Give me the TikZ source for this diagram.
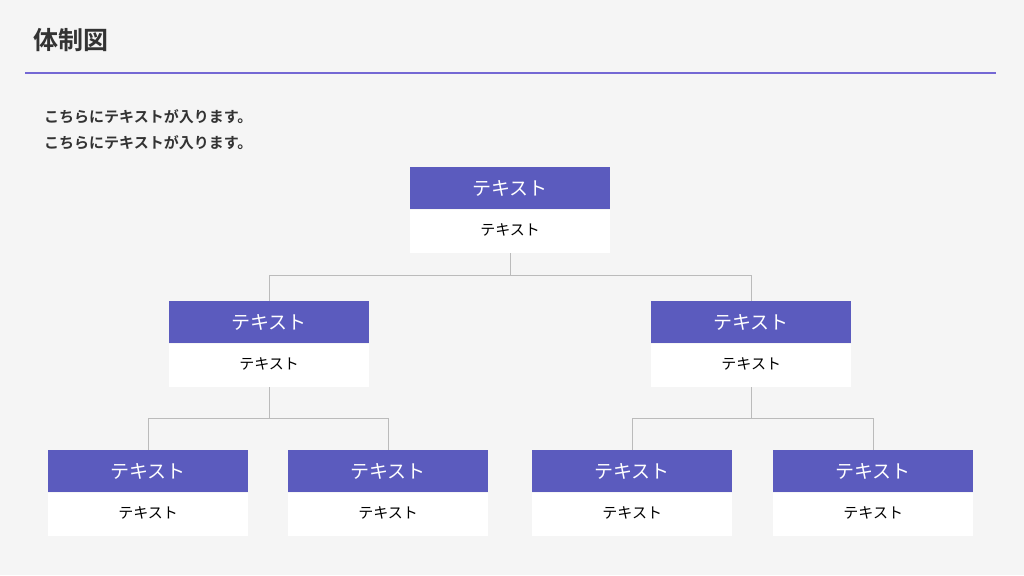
\documentclass[tikz,border=0pt]{standalone}
\usepackage{fontspec}
\newfontfamily\jp{Noto Sans CJK JP}
\newfontfamily\jpb{Noto Sans CJK JP Bold}
\definecolor{bg}{HTML}{F5F5F5}
\definecolor{hd}{HTML}{5B5BBE}
\definecolor{rule}{HTML}{7468D4}
\definecolor{ln}{HTML}{BBBBBB}
\definecolor{tx}{HTML}{333333}
\tikzset{
  hdbox/.style={fill=hd, text=white, minimum width=200pt, minimum height=42pt, inner sep=0pt, anchor=north west, font=\jp\fontsize{19}{21}\selectfont},
  bdbox/.style={fill=white, text=black, minimum width=200pt, minimum height=43pt, inner sep=0pt, anchor=north west, font=\jp\fontsize{15}{17}\selectfont},
  bdtext/.style={inner sep=0pt, text=black, font=\jp\fontsize{15}{17}\selectfont},
  conn/.style={draw=ln, line width=1.4pt}
}
\begin{document}
\begin{tikzpicture}[x=1pt,y=-1pt]
\fill[bg] (0,0) rectangle (1024,575);
\useasboundingbox (0,0) rectangle (1024,575);
\node[anchor=west, text=tx, font=\jpb\fontsize{25}{28}\selectfont, inner sep=0pt] (title) at (33,40) {体制図};
\coordinate (rl) at (25,73);
\coordinate (rr) at (996,73);
\draw[rule, line width=1.8pt] (rl) -- (rr);
\node[anchor=west, text=tx, font=\jpb\fontsize{15}{18}\selectfont, inner sep=0pt] (l1) at (44,117) {こちらにテキストが入ります。};
\node[anchor=west, text=tx, font=\jpb\fontsize{15}{18}\selectfont, inner sep=0pt] (l2) at (44,143) {こちらにテキストが入ります。};
% boxes
\newcommand\orgbox[3]{%
  \node[hdbox] (#1h) at (#2,#3) {テキスト};
  \node[bdbox] (#1b) at (#2,#3+43) {};
  \node[bdtext] (#1t) at ([yshift=2pt]#1b.center) {テキスト};
}
\orgbox{top}{410}{167}
\orgbox{ml}{169}{301}
\orgbox{mr}{651}{301}
\orgbox{b1}{48}{450}
\orgbox{b2}{288}{450}
\orgbox{b3}{532}{450}
\orgbox{b4}{773}{450}
% connectors
\draw[conn] (topb.south) -- ++(0,22) coordinate (t1);
\draw[conn] (mlh.north) |- (t1) -| (mrh.north);
\draw[conn] (mlb.south) -- ++(0,31) coordinate (m1);
\draw[conn] (b1h.north) |- (m1) -| (b2h.north);
\draw[conn] (mrb.south) -- ++(0,31) coordinate (m2);
\draw[conn] (b3h.north) |- (m2) -| (b4h.north);
\end{tikzpicture}
\end{document}
